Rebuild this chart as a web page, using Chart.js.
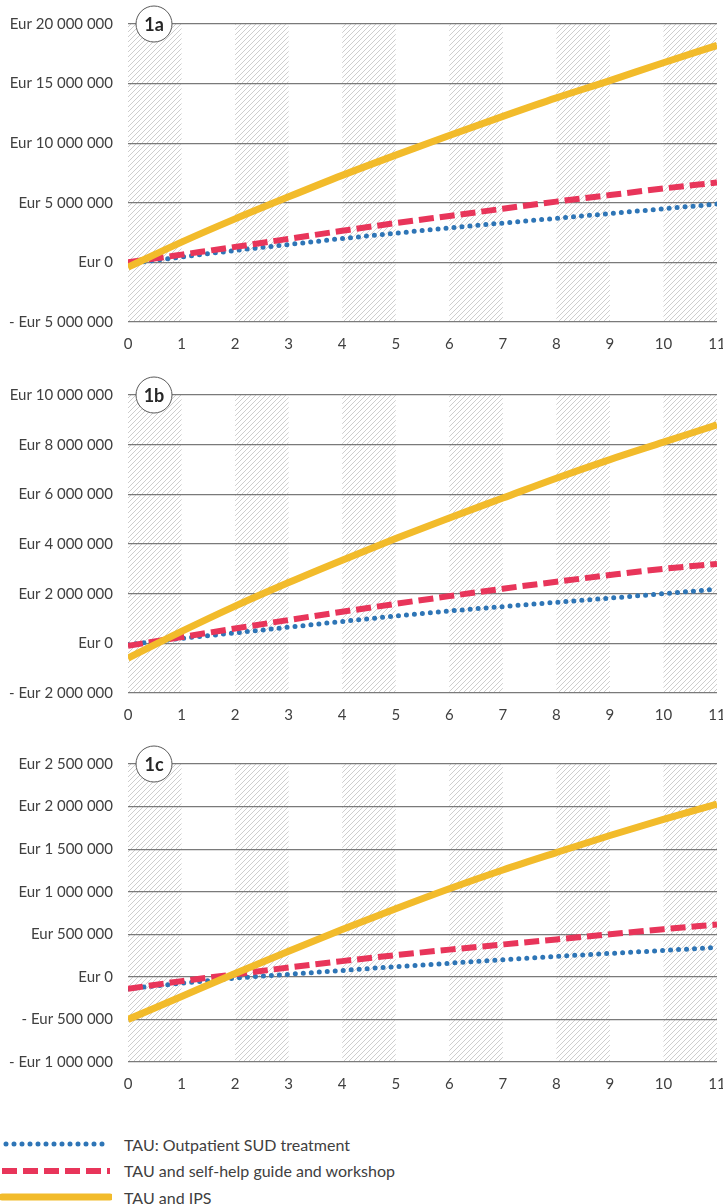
<!DOCTYPE html>
<html>
<head>
<meta charset="utf-8">
<script src="https://cdn.jsdelivr.net/npm/chart.js@4.4.0/dist/chart.umd.min.js"></script>
<style>
  body { margin: 0; background: #fff; font-family: Lato, "Open Sans", sans-serif; }
  #wrap { position: relative; width: 723px; height: 1204px; }
  .panel { position: absolute; left: 0; width: 723px; height: 370px; }
  #legend { position: absolute; left: 0; top: 1131px; font-size: 16px; color: #404040; }
  .row { height: 26.5px; display: flex; align-items: center; }
  .row svg { margin-right: 12px; }
</style>
</head>
<body>
<div id="wrap">
  <div class="panel" style="top:0px"><canvas id="c1a"></canvas></div>
  <div class="panel" style="top:371px"><canvas id="c1b"></canvas></div>
  <div class="panel" style="top:740px"><canvas id="c1c"></canvas></div>
  <div id="legend"></div>
</div>
<script>
// years after start
const years = [0, 1, 2, 3, 4, 5, 6, 7, 8, 9, 10, 11];
const shadedYears = [0, 2, 4, 6, 8, 10];

const seriesNames = ['TAU: Outpatient SUD treatment', 'TAU and self-help guide and workshop', 'TAU and IPS'];

// panel 1a
const tau1a  = [-100000, 450000, 1000000, 1500000, 2000000, 2450000, 2900000, 3300000, 3700000, 4100000, 4500000, 4900000];
const self1a = [0, 650000, 1300000, 1980000, 2650000, 3300000, 3900000, 4500000, 5100000, 5650000, 6200000, 6700000];
const ips1a  = [-400000, 1700000, 3650000, 5500000, 7300000, 9000000, 10650000, 12250000, 13800000, 15250000, 16750000, 18200000];

// panel 1b
const tau1b  = [-50000, 200000, 420000, 650000, 880000, 1100000, 1300000, 1480000, 1650000, 1820000, 2000000, 2180000];
const self1b = [-100000, 250000, 600000, 940000, 1270000, 1590000, 1900000, 2200000, 2480000, 2750000, 3000000, 3200000];
const ips1b  = [-600000, 480000, 1500000, 2450000, 3350000, 4220000, 5050000, 5850000, 6650000, 7400000, 8100000, 8800000];

// panel 1c
const tau1c  = [-140000, -75000, -15000, 30000, 75000, 120000, 160000, 200000, 240000, 275000, 310000, 345000];
const self1c = [-140000, -50000, 30000, 110000, 185000, 255000, 320000, 380000, 440000, 500000, 560000, 615000];
const ips1c  = [-500000, -230000, 40000, 300000, 555000, 800000, 1035000, 1255000, 1460000, 1660000, 1850000, 2030000];

const colors = ['#2e75b6', '#e8355a', '#f2bb2b'];

function fmtEur(v) {
    const s = Math.abs(v).toString().replace(/\B(?=(\d{3})+(?!\d))/g, ' ');
    return (v < 0 ? '- ' : '') + 'Eur ' + s;
}

// hatch pattern
function makeHatch() {
    const p = document.createElement('canvas');
    p.width = 5; p.height = 5;
    const g = p.getContext('2d');
    g.strokeStyle = '#c8c8c8';
    g.lineWidth = 0.9;
    g.beginPath();
    g.moveTo(0, 5); g.lineTo(5, 0);
    g.moveTo(-1, 1); g.lineTo(1, -1);
    g.moveTo(4, 6); g.lineTo(6, 4);
    g.stroke();
    return p;
}
const hatchCanvas = makeHatch();

const hatchPlugin = {
    id: 'hatch',
    beforeDraw(chart) {
        const { ctx, chartArea, scales } = chart;
        ctx.save();
        ctx.fillStyle = ctx.createPattern(hatchCanvas, 'repeat');
        shadedYears.forEach(y0 => {
            const x0 = scales.x.getPixelForValue(y0);
            const x1 = scales.x.getPixelForValue(y0 + 1);
            ctx.fillRect(x0, chartArea.top, x1 - x0, chartArea.bottom - chartArea.top);
        });
        ctx.restore();
    }
};

const badgePlugin = {
    id: 'badge',
    afterDraw(chart, args, opts) {
        const { ctx, chartArea } = chart;
        const cx = chartArea.left + 26, cy = chartArea.top;
        ctx.save();
        ctx.beginPath();
        ctx.arc(cx, cy, 18, 0, Math.PI * 2);
        ctx.fillStyle = '#fff';
        ctx.fill();
        ctx.strokeStyle = '#595959';
        ctx.lineWidth = 1;
        ctx.stroke();
        ctx.fillStyle = '#262626';
        ctx.font = 'bold 18px Lato';
        ctx.textAlign = 'center';
        ctx.textBaseline = 'middle';
        ctx.fillText(opts.text, cx, cy + 1);
        ctx.restore();
    }
};

function toPoints(arr) {
    return arr.map((v, i) => ({ x: years[i], y: v }));
}

function makePanel(id, label, tau, self, ips, min, max, step) {
    const ctx = document.getElementById(id).getContext('2d');
    return new Chart(ctx, {
        type: 'line',
        data: {
            datasets: [
                {
                    label: seriesNames[0],
                    data: toPoints(tau),
                    borderColor: colors[0],
                    borderWidth: 5,
                    borderDash: [0, 8],
                    borderCapStyle: 'round',
                    order: 3
                },
                {
                    label: seriesNames[1],
                    data: toPoints(self),
                    borderColor: colors[1],
                    borderWidth: 6,
                    borderDash: [15, 6],
                    order: 2
                },
                {
                    label: seriesNames[2],
                    data: toPoints(ips),
                    borderColor: colors[2],
                    borderWidth: 7,
                    order: 1
                }
            ]
        },
        options: {
            responsive: false,
            animation: false,
            layout: { padding: { top: 19, right: 6, bottom: 8, left: 0 } },
            elements: {
                point: { radius: 0 },
                line: { cubicInterpolationMode: 'monotone' }
            },
            plugins: {
                legend: { display: false },
                tooltip: { enabled: false },
                badge: { text: label }
            },
            scales: {
                x: {
                    type: 'linear',
                    min: 0,
                    max: 11,
                    grid: { display: false },
                    border: { display: false },
                    ticks: { stepSize: 1, padding: 5, color: '#404040', font: { family: 'Lato', size: 15 } },
                    afterFit: s => { s.height = 40; s.paddingLeft = 0; s.paddingRight = 0; }
                },
                y: {
                    min: min,
                    max: max,
                    grid: { color: '#7a7a7a', lineWidth: 1.2, drawTicks: false },
                    border: { display: false },
                    ticks: {
                        stepSize: step,
                        padding: 15,
                        color: '#404040',
                        font: { family: 'Lato', size: 15 },
                        callback: v => fmtEur(v)
                    },
                    afterFit: s => { s.width = 128; }
                }
            }
        },
        plugins: [hatchPlugin, badgePlugin]
    });
}

function setup() {
    ['c1a', 'c1b', 'c1c'].forEach(id => {
        const c = document.getElementById(id);
        c.width = 723; c.height = 370;
    });
    makePanel('c1a', '1a', tau1a, self1a, ips1a, -5000000, 20000000, 5000000);
    makePanel('c1b', '1b', tau1b, self1b, ips1b, -2000000, 10000000, 2000000);
    makePanel('c1c', '1c', tau1c, self1c, ips1c, -1000000, 2500000, 500000);

    // legend
    const legend = document.getElementById('legend');
    const dashes = ['0 8', '15 6', ''];
    const widths = [5, 6, 7];
    seriesNames.forEach((name, i) => {
        const row = document.createElement('div');
        row.className = 'row';
        row.innerHTML = `<svg width="112" height="10"><line x1="${i === 0 ? 6 : 2}" y1="5" x2="110" y2="5" stroke="${colors[i]}" stroke-width="${widths[i]}" stroke-dasharray="${dashes[i]}" stroke-linecap="${i === 1 ? 'butt' : 'round'}"/></svg><span>${name}</span>`;
        legend.appendChild(row);
    });
}

document.fonts.load('15px Lato').then(() => document.fonts.load('bold 18px Lato')).then(setup, setup);
</script>
</body>
</html>
